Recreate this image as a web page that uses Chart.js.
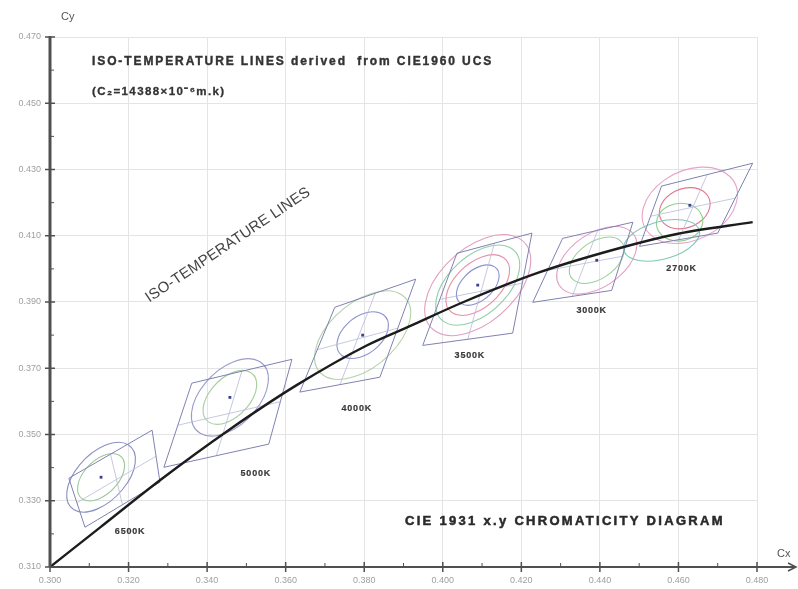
<!DOCTYPE html>
<html lang="en">
<head>
<meta charset="UTF-8">
<title>Iso-temperature lines - CIE 1931 x,y</title>
<script src="https://cdn.jsdelivr.net/npm/chart.js@4.4.1/dist/chart.umd.min.js"></script>
<style>
  html, body { margin: 0; padding: 0; background: #fff; }
  #wrap { width: 798px; height: 589px; }
</style>
</head>
<body>
<div id="wrap"><canvas id="cieChart" width="798" height="589"></canvas></div>
<script>
// axis ticks
const xTicks = [0.300, 0.320, 0.340, 0.360, 0.380, 0.400, 0.420, 0.440, 0.460, 0.480];
const yTicks = [0.310, 0.330, 0.350, 0.370, 0.390, 0.410, 0.430, 0.450, 0.470];
const xMinor = [0.310, 0.330, 0.350, 0.370, 0.390, 0.410, 0.430, 0.450, 0.470];
const yMinor = [0.320, 0.340, 0.360, 0.380, 0.400, 0.420, 0.440, 0.460];

// blackbody locus
const locusX = [0.3000, 0.3127, 0.3280, 0.3451, 0.3628, 0.3805, 0.3916, 0.4053, 0.4247, 0.4451, 0.4599, 0.4789];
const locusY = [0.3100, 0.3219, 0.3362, 0.3510, 0.3649, 0.3768, 0.3827, 0.3900, 0.3990, 0.4063, 0.4106, 0.4141];

// CCT bins, corners in order bottom-left, top-left, top-right, bottom-right
const binNames = ['6500K', '5000K', '4000K', '3500K', '3000K', '2700K'];
const binX = [
  [0.3089, 0.3048, 0.3260, 0.3280],
  [0.3290, 0.3361, 0.3616, 0.3557],
  [0.3636, 0.3725, 0.3931, 0.3840],
  [0.3949, 0.4036, 0.4227, 0.4178],
  [0.4229, 0.4305, 0.4484, 0.4430],
  [0.4501, 0.4557, 0.4789, 0.4700]
];
const binY = [
  [0.3220, 0.3368, 0.3513, 0.3356],
  [0.3401, 0.3655, 0.3727, 0.3471],
  [0.3628, 0.3884, 0.3969, 0.3673],
  [0.3769, 0.4047, 0.4108, 0.3806],
  [0.3899, 0.4092, 0.4141, 0.3935],
  [0.4068, 0.4250, 0.4319, 0.4108]
];
// where each bin name sits
const binLabelX = [0.3204, 0.3524, 0.3781, 0.4069, 0.4379, 0.4608];
const binLabelY = [0.3208, 0.3383, 0.3579, 0.3739, 0.3875, 0.4002];

// MacAdam-type ellipses: bin index, centre, semi axes, angle (deg)
const ellBin = [0, 0, 1, 1, 2, 2, 3, 3, 3, 3, 4, 4, 5, 5, 5, 5];
const ellCx = [0.3130, 0.3130, 0.3458, 0.3458, 0.3796, 0.3796, 0.4089, 0.4089, 0.4089, 0.4089, 0.4392, 0.4392, 0.4629, 0.4616, 0.4603, 0.4557];
const ellCy = [0.3371, 0.3371, 0.3612, 0.3612, 0.3800, 0.3800, 0.3951, 0.3951, 0.3951, 0.3951, 0.4026, 0.4026, 0.4192, 0.4183, 0.4141, 0.4086];
const ellA = [0.0120, 0.0081, 0.0132, 0.0092, 0.0157, 0.0081, 0.0176, 0.0140, 0.0106, 0.0070, 0.0123, 0.0084, 0.0134, 0.0070, 0.0060, 0.0101];
const ellB = [0.0066, 0.0046, 0.0076, 0.0053, 0.0090, 0.0052, 0.0102, 0.0080, 0.0061, 0.0042, 0.0075, 0.0052, 0.0100, 0.0056, 0.0056, 0.0056];
const ellDeg = [55, 55, 55, 55, 50, 50, 52, 52, 52, 52, 45, 45, 40, 40, 30, 20];
const ellColors = ['#8a90c4', '#9cc79a', '#9a9ccc', '#a6cfa0', '#b4d2a8', '#8c92cc',
  '#e0a0c0', '#8fd0a8', '#e890a8', '#8a90d0', '#e4a0c4', '#9ccf9c', '#e6a4c8', '#e07890', '#8fcf8f', '#7cc8b8'];

const binColor = '#7f82b2';

const datasets = [];
binNames.forEach((name, i) => {
  const pts = binX[i].map((v, k) => ({ x: v, y: binY[i][k] }));
  pts.push(pts[0]);
  datasets.push({ label: name, data: pts, showLine: true, borderColor: binColor, borderWidth: 1,
    pointRadius: 0, tension: 0, order: 3 });
  // split each bin into four
  const mid = (a, b) => ({ x: (binX[i][a] + binX[i][b]) / 2, y: (binY[i][a] + binY[i][b]) / 2 });
  [[mid(0, 1), mid(2, 3)], [mid(1, 2), mid(3, 0)]].forEach(seg => {
    datasets.push({ label: name + ' split', data: seg, showLine: true, borderColor: '#b8bad8', borderWidth: 0.8,
      pointRadius: 0, order: 3 });
  });
});
datasets.push({
  label: 'centres',
  data: binNames.map((n, i) => ({ x: ellCx[ellBin.indexOf(i)], y: ellCy[ellBin.indexOf(i)] })),
  showLine: false, pointStyle: 'rect', pointRadius: 2, backgroundColor: '#3c4290', borderWidth: 0, order: 2
});
datasets.push({
  label: 'locus',
  data: locusX.map((v, i) => ({ x: v, y: locusY[i] })),
  showLine: true, borderColor: '#1c1c1c', borderWidth: 2.4, pointRadius: 0,
  cubicInterpolationMode: 'monotone', order: 1
});

function text(ctx, str, x, y, font, color, spacing, align, heavy) {
  ctx.font = font;
  ctx.fillStyle = color;
  ctx.letterSpacing = spacing || '0px';
  ctx.textAlign = align || 'left';
  ctx.textBaseline = 'middle';
  ctx.fillText(str, x, y);
  if (heavy) {
    ctx.strokeStyle = color;
    ctx.lineWidth = heavy;
    ctx.strokeText(str, x, y);
  }
}

const decor = {
  id: 'decor',
  beforeDatasetsDraw(chart) {
    const { ctx, scales: { x, y } } = chart;
    const sx = x.getPixelForValue(1) - x.getPixelForValue(0);
    const sy = y.getPixelForValue(0) - y.getPixelForValue(1);
    ctx.save();
    ctx.lineWidth = 1.1;
    ellCx.forEach((cx, i) => {
      ctx.save();
      ctx.translate(x.getPixelForValue(cx), y.getPixelForValue(ellCy[i]));
      ctx.scale(sx, -sy);
      ctx.rotate(ellDeg[i] * Math.PI / 180);
      ctx.beginPath();
      ctx.ellipse(0, 0, ellA[i], ellB[i], 0, 0, 2 * Math.PI);
      ctx.restore();
      ctx.strokeStyle = ellColors[i];
      ctx.stroke();
    });
    ctx.restore();
  },
  afterDraw(chart) {
    const { ctx, chartArea: area, scales: { x, y } } = chart;
    const x0 = area.left, yb = area.bottom;
    ctx.save();
    ctx.strokeStyle = '#505050';
    // y axis
    ctx.lineWidth = 3;
    ctx.beginPath();
    ctx.moveTo(x0, area.top - 1);
    ctx.lineTo(x0, yb);
    ctx.stroke();
    // x axis with arrow
    ctx.lineWidth = 2;
    ctx.beginPath();
    ctx.moveTo(x0, yb);
    ctx.lineTo(795, yb);
    ctx.stroke();
    ctx.lineWidth = 1.5;
    ctx.beginPath();
    ctx.moveTo(788, yb - 4);
    ctx.lineTo(796, yb);
    ctx.lineTo(788, yb + 4);
    ctx.stroke();
    // ticks
    ctx.lineWidth = 1.5;
    ctx.beginPath();
    yTicks.forEach(v => { const p = y.getPixelForValue(v); ctx.moveTo(x0 - 5, p); ctx.lineTo(x0 + 5, p); });
    xTicks.forEach(v => { const p = x.getPixelForValue(v); ctx.moveTo(p, yb - 5); ctx.lineTo(p, yb + 5); });
    ctx.stroke();
    ctx.lineWidth = 1;
    ctx.beginPath();
    yMinor.forEach(v => { const p = y.getPixelForValue(v); ctx.moveTo(x0, p); ctx.lineTo(x0 + 4, p); });
    xMinor.forEach(v => { const p = x.getPixelForValue(v); ctx.moveTo(p, yb); ctx.lineTo(p, yb - 4); });
    ctx.stroke();

    // axis names
    text(ctx, 'Cy', 61, 17, '11px "Liberation Sans", Arial, sans-serif', '#555');
    text(ctx, 'Cx', 777, 554, '11px "Liberation Sans", Arial, sans-serif', '#555');

    // titles
    text(ctx, 'ISO-TEMPERATURE LINES derived  from CIE1960 UCS', 92, 62,
      'bold 12px "Liberation Sans", Arial, sans-serif', '#333', '1.9px', 'left', 0.4);
    text(ctx, '(C\u2082=14388\u00d710\u207b\u2076m.k)', 92, 92,
      'bold 11.5px "Liberation Sans", Arial, sans-serif', '#333', '1.4px', 'left', 0.3);
    text(ctx, 'CIE 1931 x.y CHROMATICITY DIAGRAM', 405, 521,
      'bold 13px "Liberation Sans", Arial, sans-serif', '#2a2a2a', '2.3px', 'left', 0.5);

    ctx.save();
    ctx.translate(228, 245);
    ctx.rotate(-33.8 * Math.PI / 180);
    text(ctx, 'ISO-TEMPERATURE LINES', 0, 0, '15px "Liberation Sans", Arial, sans-serif', '#444', '0.2px', 'center');
    ctx.restore();

    // bin names
    binNames.forEach((n, i) => {
      text(ctx, n, x.getPixelForValue(binLabelX[i]), y.getPixelForValue(binLabelY[i]),
        'bold 9px "Liberation Sans", Arial, sans-serif', '#3a3a3a', '0.8px', 'center', 0.2);
    });
    ctx.restore();
  }
};

const tickFont = { family: '"Liberation Sans", Arial, sans-serif', size: 9 };

new Chart(document.getElementById('cieChart'), {
  type: 'scatter',
  data: { datasets },
  options: {
    responsive: false,
    animation: false,
    layout: { padding: { top: 37, right: 41, left: 0, bottom: 0 } },
    plugins: { legend: { display: false }, tooltip: { enabled: false } },
    scales: {
      x: {
        type: 'linear', min: 0.300, max: 0.480,
        afterBuildTicks: s => { s.ticks = xTicks.map(v => ({ value: v })); },
        afterFit: s => { s.height = 22; },
        ticks: { callback: v => v.toFixed(3), font: tickFont, color: '#a0a0a0', padding: 8, maxRotation: 0 },
        grid: { color: '#e4e4e4', drawTicks: false },
        border: { display: false }
      },
      y: {
        type: 'linear', min: 0.310, max: 0.470,
        afterBuildTicks: s => { s.ticks = yTicks.map(v => ({ value: v })); },
        afterFit: s => { s.width = 50; },
        ticks: { callback: v => v.toFixed(3), font: tickFont, color: '#a0a0a0', padding: 9 },
        grid: { color: '#e4e4e4', drawTicks: false },
        border: { display: false }
      }
    }
  },
  plugins: [decor]
});
</script>
</body>
</html>
